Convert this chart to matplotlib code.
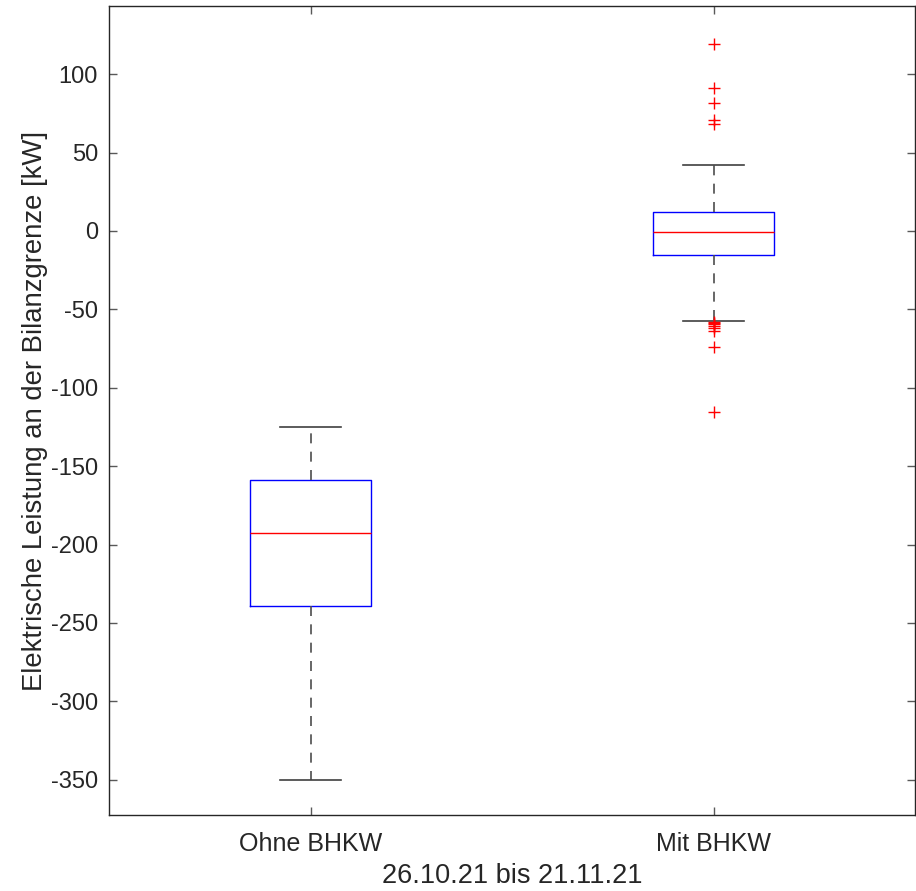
import numpy as np
import matplotlib.pyplot as plt

plt.rcParams['font.family'] = ['Liberation Sans', 'DejaVu Sans']
plt.rcParams['axes.unicode_minus'] = False

# box statistics (kW)
labels = ['Ohne BHKW', 'Mit BHKW']
med = [-192.5, -0.6]
q1 = [-239.0, -15.3]
q3 = [-158.7, 12.1]
whislo = [-350.0, -57.4]
whishi = [-125.0, 42.0]
fliers_ohne = []
fliers_mit = [119.4, 91.4, 81.6, 71.0, 68.1,
              -58.0, -58.8, -59.6, -60.4, -61.8, -63.5, -74.0, -115.4]

stats = []
for i, lab in enumerate(labels):
    stats.append(dict(label=lab, med=med[i], q1=q1[i], q3=q3[i],
                      whislo=whislo[i], whishi=whishi[i],
                      fliers=[fliers_ohne, fliers_mit][i]))

fig = plt.figure(figsize=(9.16, 8.91), dpi=100)
ax = fig.add_axes([109 / 916, 1 - 815 / 891, 806 / 916, 809 / 891])

ax.bxp(stats, positions=[1, 2], widths=0.3, showfliers=True,
       boxprops=dict(color='blue', linewidth=1),
       medianprops=dict(color='red', linewidth=1),
       whiskerprops=dict(color='0.3', linewidth=1.2, linestyle=(0, (6, 5))),
       capprops=dict(color='0.25', linewidth=1.2),
       capwidths=0.15,
       flierprops=dict(marker='+', markeredgecolor='red', markersize=8,
                       linestyle='none'))

ax.set_xlim(0.5, 2.5)
ax.set_ylim(-372.5, 143.5)
ax.set_yticks(np.arange(-350, 101, 50))
ax.set_xticks([1, 2])
ax.set_xticklabels(labels)

for s in ax.spines.values():
    s.set_color('0.15')
    s.set_linewidth(1)
ax.tick_params(direction='in', length=6, width=1, color='0.35',
               top=True, right=True, labelcolor='0.15')
ax.tick_params(axis='y', labelsize=17, pad=8)
ax.tick_params(axis='x', labelsize=18, pad=12)

ax.set_ylabel('Elektrische Leistung an der Bilanzgrenze [kW]', fontsize=19.8,
              color='0.15', labelpad=2)
ax.set_xlabel('26.10.21 bis 21.11.21', fontsize=19.5, color='0.15', labelpad=5)

fig.savefig('out.png', dpi=100)
